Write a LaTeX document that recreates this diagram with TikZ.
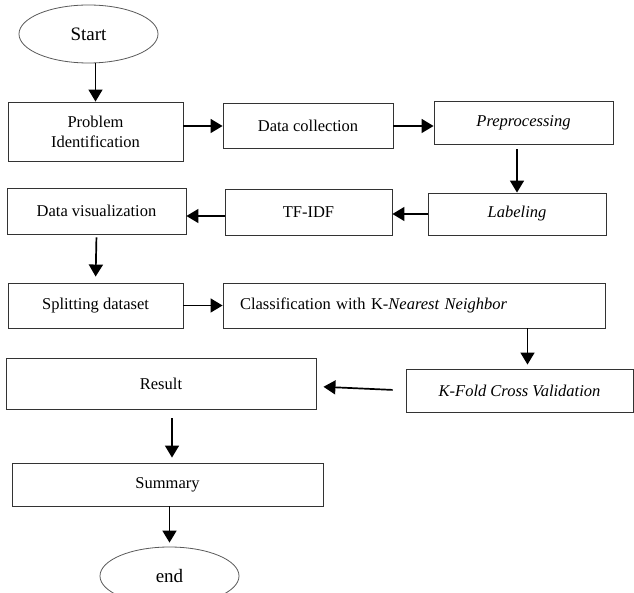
\documentclass[tikz,border=0pt]{standalone}
\usepackage{fontspec}
\setmainfont{Liberation Serif}
\usepackage{tikz}
\usetikzlibrary{shapes.geometric,arrows.meta}
\tikzset{
  stepbox/.style={
    draw=black!80,line width=0.9pt,rectangle,inner sep=0pt,
    font=\fontsize{16.5}{20}\selectfont,align=center,
  },
  termbox/.style={
    draw=black!65,line width=0.8pt,ellipse,inner sep=0pt,
    minimum width=139pt,minimum height=58pt,
    font=\fontsize{19}{22}\selectfont,
  },
  flow/.style={
    line width=1.7pt,-{Triangle[length=12pt,width=14pt]},
  },
}

\begin{document}
\begin{tikzpicture}[x=1pt,y=-1pt]
        \useasboundingbox (0,0) rectangle (634,593);
        % terminals
        \node[termbox] (start) at (88.5,34) {Start};
        \node[termbox] (end) at (169.5,576) {end};
        % first row
        \node[stepbox,minimum width=175pt,minimum height=59pt] (prob) at (95.5,131.5) {Problem\\Identification};
        \node[stepbox,minimum width=170pt,minimum height=45pt] (coll) at (308,126) {Data collection};
        \node[stepbox,minimum width=179pt,minimum height=43pt] (prep) at (523.5,122.5) {\textit{Preprocessing}};
        % second row
        \node[stepbox,minimum width=178pt,minimum height=42pt] (lab) at (517,214) {\textit{Labeling}};
        \node[stepbox,minimum width=167pt,minimum height=46pt] (tfidf) at (308.5,212) {TF-IDF};
        \node[stepbox,minimum width=179pt,minimum height=46pt] (vis) at (96.5,211) {Data visualization};
        % third row
        \node[stepbox,minimum width=175pt,minimum height=45pt] (split) at (95.5,305.5) {Splitting dataset};
        \node[stepbox,minimum width=382pt,minimum height=45pt,text width=348pt,align=left] (knn) at (414,305.5) {Classification with K-\textit{Nearest Neighbor}};
        \node[stepbox,minimum width=227pt,minimum height=43pt] (kfold) at (519.5,390.5) {\textit{K-Fold Cross Validation}};
        % last steps
        \node[stepbox,minimum width=310pt,minimum height=51pt] (result) at (161,383.5) {Result};
        \node[stepbox,minimum width=311pt,minimum height=43pt] (summ) at (167.5,484.5) {Summary};
        % arrows
        \draw[flow] (prob.north |- start.south) -- (prob.north);
        \draw[flow] (prob.east |- coll) -- (coll.west);
        \draw[flow] (coll.east) -- (coll.east -| prep.west);
        \draw[flow,shorten <=5pt] (lab.north |- prep.south) -- (lab.north);
        \draw[flow] (lab.west) -- (lab.west -| tfidf.east);
        \draw[flow] ([yshift=-4pt]tfidf.west) -- ([yshift=-4pt]tfidf.west -| vis.east);
        \draw[flow,shorten <=3pt,shorten >=6pt] (vis.south) -- (split.north);
        \draw[flow] (split.east) -- (knn.west);
        \draw[flow,shorten >=4pt] ([xshift=8pt]kfold.north |- knn.south) -- ([xshift=8pt]kfold.north);
        \draw[flow,shorten <=13pt,shorten >=7pt] (kfold.west) -- ([yshift=-3pt]result.east);
        \draw[flow,shorten <=9pt,shorten >=5pt] ([xshift=11pt]result.south) -- ([xshift=11pt]result.south |- summ.north);
        \draw[flow,shorten >=4pt] (summ.south -| end.north) -- (end.north);
\end{tikzpicture}
\end{document}
